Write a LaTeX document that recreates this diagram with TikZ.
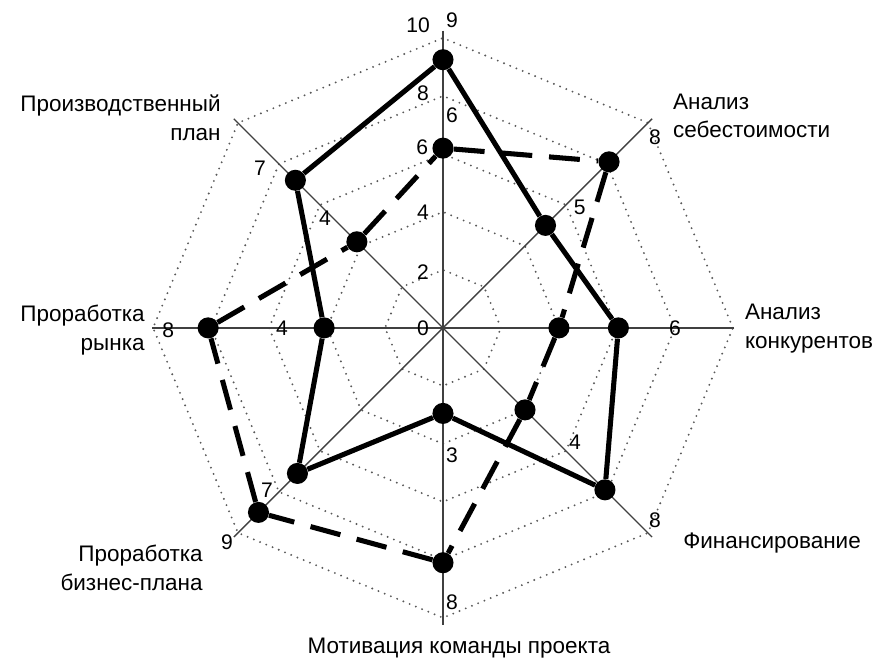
\documentclass[tikz,border=0pt]{standalone}
\usepackage{fontspec}
\setmainfont{Liberation Sans}
\tikzset{
  axis/.style={line width=0.9pt, gray!50!black},
  ring/.style={line width=1.5pt, gray!70!black, dash pattern=on 0pt off 4.8pt, line cap=round},
  dot/.style={circle, fill=black, inner sep=0pt, minimum size=15pt},
  projA/.style={line width=3.6pt},
  projB/.style={line width=3.6pt, dash pattern=on 22pt off 12pt},
  num/.style={font=\fontsize{15}{15}\selectfont, inner sep=0pt},
  crit/.style={font=\fontsize{16}{20.5}\selectfont, inner sep=0pt},
}
\begin{document}
\begin{tikzpicture}[x=0.725cm,y=0.725cm]
  \useasboundingbox (-15.28,-11.55) rectangle (14.97,11.31);
	% grid rings
	\draw[ring] (0:2) -- (45:2) -- (90:2) -- (135:2) -- (180:2) -- (225:2) -- (270:2) -- (315:2) -- cycle;
	\draw[ring] (0:4) -- (45:4) -- (90:4) -- (135:4) -- (180:4) -- (225:4) -- (270:4) -- (315:4) -- cycle;
	\draw[ring] (0:6) -- (45:6) -- (90:6) -- (135:6) -- (180:6) -- (225:6) -- (270:6) -- (315:6) -- cycle;
	\draw[ring] (0:8) -- (45:8) -- (90:8) -- (135:8) -- (180:8) -- (225:8) -- (270:8) -- (315:8) -- cycle;
	\draw[ring] (0:10) -- (45:10) -- (90:10) -- (135:10) -- (180:10) -- (225:10) -- (270:10) -- (315:10) -- cycle;
	% axes
	\coordinate (c) at (0,0);
	\coordinate (axN) at (90:10.25);
	\coordinate (axNE) at (45:10.2);
	\coordinate (axE) at (0:10.05);
	\coordinate (axSE) at (-45:10.2);
	\coordinate (axS) at (-90:10.25);
	\coordinate (axSW) at (-135:10.2);
	\coordinate (axW) at (180:10.05);
	\coordinate (axNW) at (135:10.2);
	\draw[axis] (axN) -- (axS);
	\draw[axis] (axE) -- (axW);
	\draw[axis] (axNE) -- (axSW);
	\draw[axis] (axNW) -- (axSE);
	% first project (solid)
	\node[dot] (aN) at (90:9.25) {};
	\node[dot] (aNE) at (45:5) {};
	\node[dot] (aE) at (0:6.05) {};
	\node[dot] (aSE) at (-45:7.9) {};
	\node[dot] (aS) at (-90:2.95) {};
	\node[dot] (aSW) at (-135:7.1) {};
	\node[dot] (aW) at (180:4.1) {};
	\node[dot] (aNW) at (135:7.2) {};
	\draw[projA] (aN) -- (aNE) -- (aE) -- (aSE) -- (aS) -- (aSW) -- (aW) -- (aNW) -- (aN);
	% second project (dashed)
	\node[dot] (bN) at (90:6.2) {};
	\node[dot] (bNE) at (45:8.1) {};
	\node[dot] (bE) at (0:4) {};
	\node[dot] (bSE) at (-45:4) {};
	\node[dot] (bS) at (-90:8.1) {};
	\node[dot] (bSW) at (-135:9) {};
	\node[dot] (bW) at (180:8.1) {};
	\node[dot] (bNW) at (135:4.2) {};
	\draw[projB] (bN) -- (bNE);
	\draw[projB] (bNE) -- (bE);
	\draw[projB] (bE) -- (bSE);
	\draw[projB] (bSE) -- (bS);
	\draw[projB] (bS) -- (bSW);
	\draw[projB] (bSW) -- (bW);
	\draw[projB] (bW) -- (bNW);
	\draw[projB] (bNW) -- (bN);
	% scale and values
	\node[num] (v10) at (-0.86,10.45) {10};
	\node[num] (vN9) at (0.31,10.62) {9};
	\node[num] (v8) at (-0.69,8.1) {8};
	\node[num] (vN6) at (0.31,7.34) {6};
	\node[num] (v6) at (-0.72,6.24) {6};
	\node[num] (v4) at (-0.69,4.0) {4};
	\node[num] (v2) at (-0.69,1.93) {2};
	\node[num] (v0) at (-0.69,0) {0};
	\node[num] (vNE5) at (4.72,4.17) {5};
	\node[num] (vNE8) at (7.31,6.59) {8};
	\node[num] (vE6) at (8.0,0) {6};
	\node[num] (vSE4) at (4.55,-3.93) {4};
	\node[num] (vSE8) at (7.31,-6.62) {8};
	\node[num] (vS3) at (0.31,-4.38) {3};
	\node[num] (vS8) at (0.31,-9.45) {8};
	\node[num] (vSW7) at (-6.07,-5.59) {7};
	\node[num] (vSW9) at (-7.45,-7.38) {9};
	\node[num] (vW8) at (-9.48,-0.07) {8};
	\node[num] (vW4) at (-5.55,0) {4};
	\node[num] (vNW7) at (-6.31,5.52) {7};
	\node[num] (vNW4) at (-4.07,3.79) {4};
	% criteria
	\node[crit, anchor=east, align=right] (tNW) at (-7.66,7.26) {Производственный\\план};
	\node[crit, anchor=west, align=left] (tNE) at (7.93,7.31) {Анализ\\себестоимости};
	\node[crit, anchor=west, align=left] (tE) at (10.41,-0.02) {Анализ\\конкурентов};
	\node[crit, anchor=west] (tSE) at (8.28,-7.41) {Финансирование};
	\node[crit] (tS) at (0.55,-11.05) {Мотивация команды проекта};
	\node[crit, anchor=east, align=right] (tSW) at (-8.28,-8.29) {Проработка\\бизнес-плана};
	\node[crit, anchor=east, align=right] (tW) at (-10.28,-0.07) {Проработка\\рынка};
\end{tikzpicture}
\end{document}
